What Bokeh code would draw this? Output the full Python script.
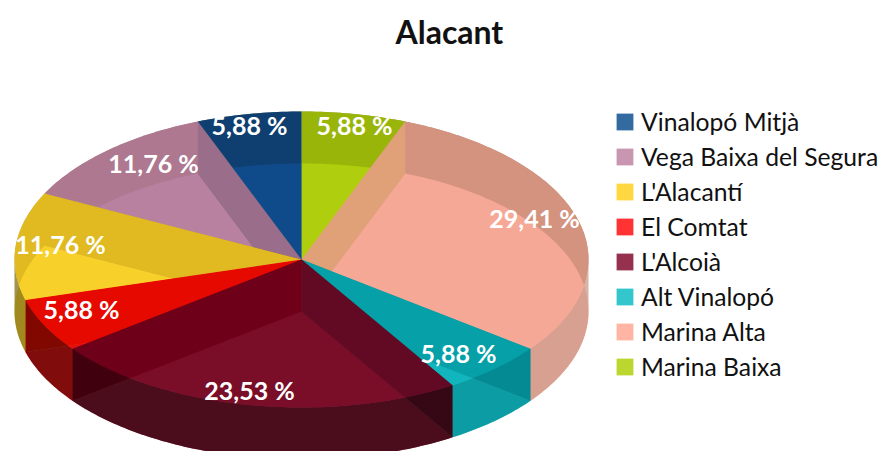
import math
from bokeh.core.properties import value
from bokeh.embed import file_html
from bokeh.models import ColumnDataSource, Legend, LegendItem, Range1d
from bokeh.plotting import figure
from bokeh.resources import INLINE

# ---- data (clockwise from 12 o'clock) ----
COMARQUES = ["Marina Baixa", "Marina Alta", "Alt Vinalopó", "L'Alcoià", "El Comtat",
             "L'Alacantí", "Vega Baixa del Segura", "Vinalopó Mitjà"]
PERCENT = [5.88, 29.41, 5.88, 23.53, 5.88, 11.76, 11.76, 5.88]
LABELS = ["5,88 %", "29,41 %", "5,88 %", "23,53 %", "5,88 %", "11,76 %", "11,76 %", "5,88 %"]
LEGEND_ORDER = ["Vinalopó Mitjà", "Vega Baixa del Segura", "L'Alacantí", "El Comtat",
                "L'Alcoià", "Alt Vinalopó", "Marina Alta", "Marina Baixa"]

# ---- colours ----
BASE = ["#bcd630", "#ffb4a4", "#33c6cc", "#96304f", "#ff3333", "#ffd740", "#c896b0", "#336a9f"]
LIT = ["#afcf0a", "#f5a896", "#10b5be", "#7a0a2a", "#e60a00", "#f8d02a", "#b8809f", "#0f4c8a"]
BACK = ["#9ab50a", "#d4937f", "#05a0a8", "#6f001a", "#e60a00", "#e0ba20", "#ad7890", "#0f4070"]
FRONT = ["#9ab50a", "#d8a090", "#0a9ca4", "#4a0a1c", "#800a0a", "#a08a20", "#ad7890", "#0f4070"]
WALL = ["#e0a078", "#05a0a8", "#620a24", "#6f001a", "#e60a00", "#e0ba20", "#9a6e8a", "#0f4c8a"]
WALL_SEEN_IN = [1, 2, 3, 3, 4, 5, 6, 7]

# ---- layout (pixels) ----
W, H = 882, 451
CX, CY, RX, RY, DEPTH = 301, 259, 287, 148, 52
TOP_ALPHA, FRONT_ALPHA = 0.7, 0.75
LABEL_X = [354, 534, 458, 249, 81, 60, 153, 249]
LABEL_Y = [124, 217, 352, 389, 308, 243, 162, 124]
TITLE_H = 56


def rgb(h):
    return [int(h[i:i + 2], 16) for i in (1, 3, 5)]


def solve(target, under, alpha):
    t, u = rgb(target), rgb(under)
    c = [max(0, min(255, round((a - (1 - alpha) * b) / alpha))) for a, b in zip(t, u)]
    return "#%02x%02x%02x" % tuple(c)


def under(target, over, alpha):
    t, o = rgb(target), rgb(over)
    c = [max(0, min(255, round((a - alpha * b) / (1 - alpha)))) for a, b in zip(t, o)]
    return "#%02x%02x%02x" % tuple(c)


def px(theta, dy=0):
    r = math.radians(theta)
    return CX + RX * math.sin(r), CY + dy - RY * math.cos(r)


def arc(a0, a1, dy=0):
    n = max(2, int(abs(a1 - a0)) + 2)
    pts = [px(a0 + (a1 - a0) * i / (n - 1), dy) for i in range(n)]
    return [q[0] for q in pts], [q[1] for q in pts]


def wedge(a0, a1, dy=0):
    xs, ys = arc(a0, a1, dy)
    return [CX] + xs, [CY + dy] + ys


total = sum(PERCENT)
edges = [0]
for v in PERCENT:
    edges.append(edges[-1] + v / total * 360)
spans = list(zip(edges[:-1], edges[1:]))

TOP = [solve(l, b, TOP_ALPHA) for l, b in zip(LIT, BASE)]
TOP_BASE = [under(k, t, TOP_ALPHA) for k, t in zip(BACK, TOP)]
FRONT_FILL = [solve(f, b, FRONT_ALPHA) for f, b in zip(FRONT, BASE)]
WALL_FILL = [under(w, TOP[s], TOP_ALPHA) for w, s in zip(WALL, WALL_SEEN_IN)]

layers = []
for (a0, a1), c in zip(spans, TOP_BASE):
    layers.append((*wedge(a0, a1), c, 1))
for (a0, a1), c in zip(spans, BASE):
    layers.append((*wedge(a0, a1, DEPTH), c, 1))
for i in [0, 7, 6, 5, 1, 4, 2, 3]:
    e = spans[i][1]
    x, y = px(e)
    x2, y2 = px(e, DEPTH)
    layers.append(([CX, x, x2, CX], [CY, y, y2, CY + DEPTH], WALL_FILL[i], 1))
for i, (a0, a1) in enumerate(spans):
    lo, hi = max(a0, 90), min(a1, 270)
    if lo < hi:
        xs, ys = arc(lo, hi)
        xb, yb = arc(hi, lo, DEPTH)
        layers.append((xs + xb, ys + yb, FRONT_FILL[i], FRONT_ALPHA))
for (a0, a1), c in zip(spans, TOP):
    layers.append((*wedge(a0, a1), c, TOP_ALPHA))

p = figure(width=W, height=H, frame_width=W, frame_height=H - TITLE_H,
           x_range=Range1d(0, W), y_range=Range1d(H, TITLE_H),
           toolbar_location=None, output_backend="svg", min_border=0, min_border_top=TITLE_H,
           title="Alacant", margin=(0, 0, 0, 0))
p.title.text_font = "Lato"
p.title.text_font_style = "bold"
p.title.text_font_size = "32px"
p.title.text_color = "#111111"
p.title.align = "left"
p.title.offset = 395
p.title.standoff = 11
p.axis.visible = False
p.grid.visible = False
p.outline_line_color = None

src = ColumnDataSource(dict(xs=[l[0] for l in layers], ys=[l[1] for l in layers],
                            c=[l[2] for l in layers], a=[l[3] for l in layers]))
p.patches("xs", "ys", source=src, fill_color="c", fill_alpha="a", line_color=None)

p.text(LABEL_X, LABEL_Y, text=LABELS, text_color="white", text_font=value("Lato"),
       text_font_style="bold", text_font_size="25px", text_align="center", text_baseline="middle")

items = []
for name in LEGEND_ORDER:
    r = p.quad(left=[float("nan")], right=[float("nan")], top=[float("nan")], bottom=[float("nan")],
               fill_color=BASE[COMARQUES.index(name)], line_color=None)
    items.append(LegendItem(label=name, renderers=[r]))
legend = Legend(items=items, location=(614, 70), glyph_width=21, glyph_height=21,
                label_standoff=6, spacing=6, padding=4, margin=0, border_line_color=None,
                background_fill_alpha=0, label_text_font="Lato", label_text_font_size="24.7px",
                label_text_color="#111111", label_height=27)
p.add_layout(legend)

open("out.html", "w").write(file_html(p, INLINE))
